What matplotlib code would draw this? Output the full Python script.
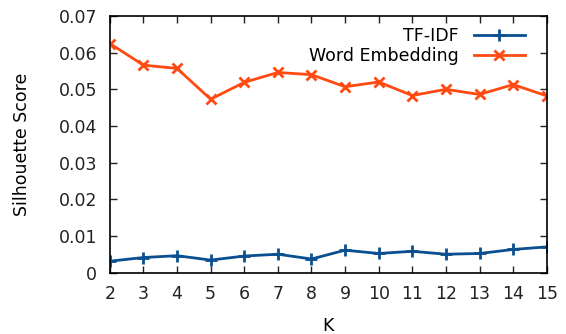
import matplotlib
matplotlib.use("Agg")
import matplotlib.pyplot as plt

k = [2, 3, 4, 5, 6, 7, 8, 9, 10, 11, 12, 13, 14, 15]
tfidf = [0.0031, 0.0041, 0.0046, 0.0034, 0.0045, 0.0050, 0.0037, 0.0061,
         0.0052, 0.0058, 0.0050, 0.0052, 0.0063, 0.0070]
word_emb = [0.0625, 0.0566, 0.0557, 0.0473, 0.0519, 0.0546, 0.0540, 0.0507,
            0.0520, 0.0483, 0.0500, 0.0486, 0.0513, 0.0482]
yticks = [0, 0.01, 0.02, 0.03, 0.04, 0.05, 0.06, 0.07]
ytick_labels = ["0", "0.01", "0.02", "0.03", "0.04", "0.05", "0.06", "0.07"]

plt.rcParams['font.family'] = ['DejaVu Sans']
plt.rcParams['font.size'] = 12.5

fig = plt.figure(figsize=(5.66, 3.34), dpi=100)
ax = fig.add_axes([0.194, 0.184, 0.772, 0.768])

ax.plot(k, tfidf, color="#0a4f8f", marker="+", markersize=9, markeredgewidth=2,
        linewidth=2, label="TF-IDF")
ax.plot(k, word_emb, color="#ff4a12", marker="x", markersize=7, markeredgewidth=2,
        linewidth=2, label="Word Embedding")

ax.set_xlim(2, 15)
ax.set_ylim(0, 0.07)
ax.set_xticks(k)
ax.set_yticks(yticks)
ax.set_yticklabels(ytick_labels)
ax.tick_params(direction="in", top=True, right=True, length=5, width=1, colors="#222222")
ax.tick_params(axis="x", pad=9)
ax.tick_params(axis="y", pad=9)
for s in ax.spines.values():
    s.set_linewidth(1.2)
ax.set_xlabel("K", labelpad=10)
ax.set_ylabel("Silhouette Score", labelpad=20)

leg = ax.legend(loc="upper right", frameon=False, markerfirst=False,
                handlelength=2.9, handletextpad=0.9, borderaxespad=0.25,
                labelspacing=0.1, bbox_to_anchor=(0.975, 1.0))

fig.savefig("out.png", dpi=100)
